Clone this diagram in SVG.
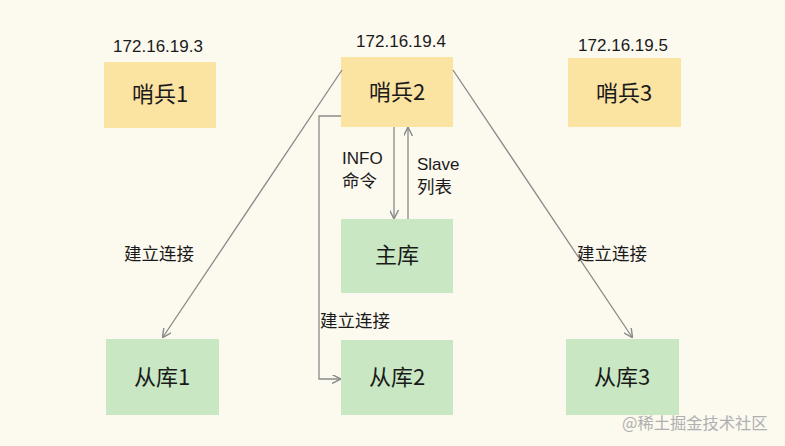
<svg xmlns="http://www.w3.org/2000/svg" width="785" height="446" viewBox="0 0 785 446">
<defs>
<style>
.bg{fill:#fcf9ef}
.y{fill:#fbe3a2}
.g{fill:#c9e7c3}
.nl{font-family:"Noto Sans CJK SC","Liberation Sans",sans-serif;font-size:22px;fill:#1a1a1a;text-anchor:middle}
.ip{font-family:"Liberation Sans","Noto Sans CJK SC",sans-serif;font-size:17px;fill:#1a1a1a;text-anchor:middle}
.lb{font-family:"Liberation Sans","Noto Sans CJK SC",sans-serif;font-size:17px;fill:#1a1a1a}
.cj{font-family:"Noto Sans CJK SC",sans-serif;font-size:17.5px;fill:#1a1a1a}
.c{fill:none;stroke:#8a8a8a;stroke-width:1.3}
.wm{font-family:"Noto Sans CJK SC",sans-serif;font-size:16.3px;fill:#b0b0b0}
</style>
<marker id="ah" viewBox="0 0 10 10" refX="9" refY="5" markerWidth="9" markerHeight="9" markerUnits="userSpaceOnUse" orient="auto">
<path d="M0,0 L10,5 L0,10" fill="none" stroke="#8a8a8a" stroke-width="1.6"/>
</marker>
</defs>
<rect class="bg" x="0" y="0" width="785" height="446"/>
<g id="ip-labels">
<text class="ip" x="158" y="52">172.16.19.3</text>
<text class="ip" x="401" y="47">172.16.19.4</text>
<text class="ip" x="623" y="51">172.16.19.5</text>
</g>
<g id="sentinel1"><rect class="y" x="104" y="62" width="112" height="66"/><text class="nl" x="160" y="102">哨兵1</text></g>
<g id="sentinel2"><rect class="y" x="341" y="57" width="112" height="70"/><text class="nl" x="397" y="100">哨兵2</text></g>
<g id="sentinel3"><rect class="y" x="568" y="58" width="113" height="69"/><text class="nl" x="624" y="101">哨兵3</text></g>
<g id="master"><rect class="g" x="341" y="219" width="112" height="74"/><text class="nl" x="397" y="263">主库</text></g>
<g id="slave1"><rect class="g" x="106" y="339" width="113" height="76"/><text class="nl" x="162" y="385">从库1</text></g>
<g id="slave2"><rect class="g" x="341" y="340" width="112" height="75"/><text class="nl" x="397" y="385">从库2</text></g>
<g id="slave3"><rect class="g" x="566" y="339" width="113" height="76"/><text class="nl" x="622" y="385">从库3</text></g>
<g id="connectors">
<line class="c" x1="342" y1="70" x2="163" y2="337" marker-end="url(#ah)"/>
<line class="c" x1="453" y1="70" x2="632" y2="337" marker-end="url(#ah)"/>
<polyline class="c" points="341,116 319,116 319,379 340,379" marker-end="url(#ah)"/>
<line class="c" x1="394" y1="127" x2="394" y2="218" marker-end="url(#ah)"/>
<line class="c" x1="408" y1="219" x2="408" y2="128" marker-end="url(#ah)"/>
</g>
<g id="connector-labels">
<text class="lb" x="342" y="164">INFO</text>
<text class="cj" x="342" y="187">命令</text>
<text class="lb" x="417" y="170">Slave</text>
<text class="cj" x="417" y="193">列表</text>
<text class="cj" x="124" y="260">建立连接</text>
<text class="cj" x="577" y="260">建立连接</text>
<text class="cj" x="320" y="327">建立连接</text>
</g>
<text class="wm" x="622" y="429">@稀土掘金技术社区</text>
</svg>
